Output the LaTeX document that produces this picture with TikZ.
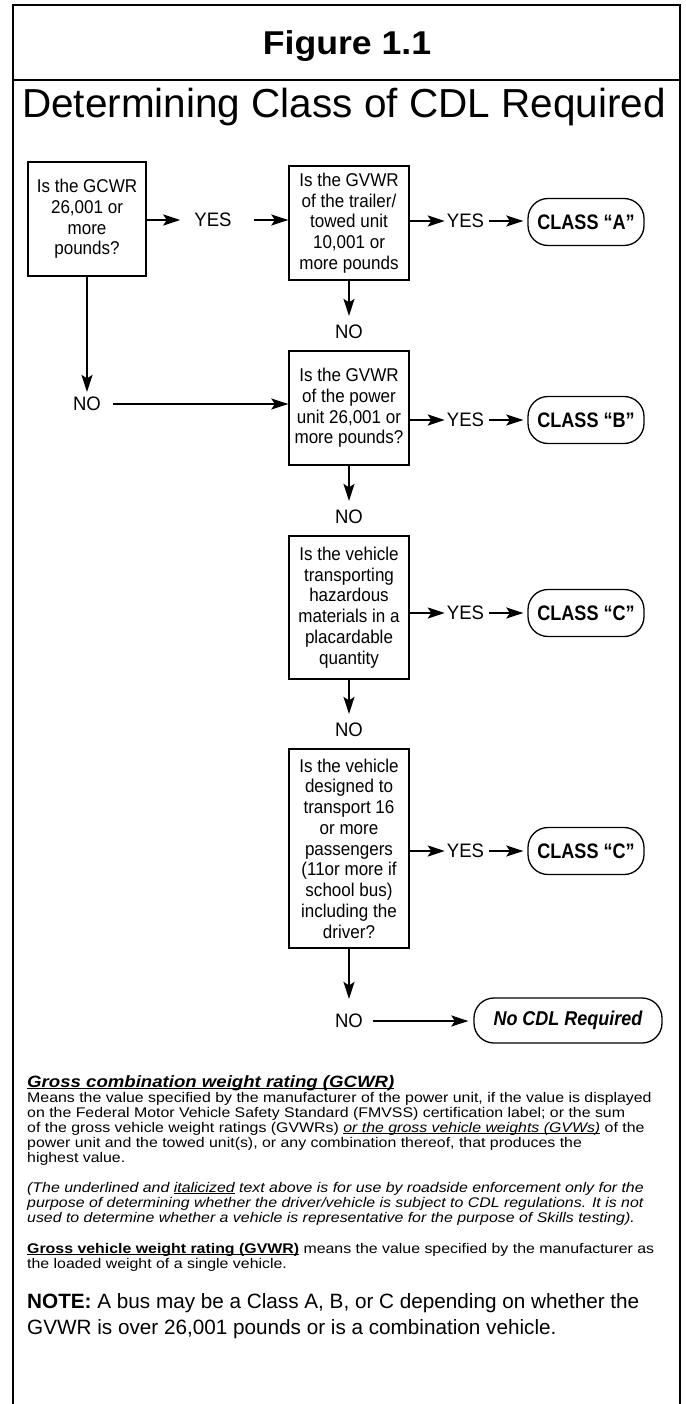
\documentclass[tikz,border=0pt]{standalone}
\usepackage{fontspec}
\setmainfont{Liberation Sans}
\newfontfamily\parfont[FakeStretch=1.135]{Liberation Sans}
\newfontfamily\boxfont[FakeStretch=0.92]{Liberation Sans}
\newfontfamily\lblfont[FakeStretch=0.95]{Liberation Sans}
\newfontfamily\figfont[FakeStretch=1.08]{Liberation Sans}
\newfontfamily\classfont[FakeStretch=0.86]{Liberation Sans}
\newfontfamily\cdlfont[FakeStretch=0.9]{Liberation Sans}
\newcommand\myul[1]{\setbox0\hbox{#1}\leavevmode\rlap{\rule[-1.7pt]{\wd0}{0.7pt}}\copy0\relax}
\usetikzlibrary{arrows.meta}
\begin{document}
\begin{tikzpicture}[x=1pt,y=-1pt,
  qbox/.style={draw, line width=1.3pt, minimum width=120pt, inner sep=0pt, align=center, font=\boxfont\fontsize{18.5}{20.75}\selectfont},
  lbl/.style={inner sep=0pt, font=\lblfont\fontsize{19.5}{22}\selectfont},
  oval/.style={draw, line width=1.3pt, rounded corners=20pt, minimum width=116pt, minimum height=47pt, inner sep=0pt, font=\classfont\bfseries\fontsize{21}{24}\selectfont},
  arr/.style={line width=2pt, -{Stealth[length=17pt,width=11pt,inset=3.5pt]}},
  frameline/.style={line width=1.2pt},
  ptext/.style={inner sep=0pt, anchor=base west, font=\parfont\fontsize{14}{15}\selectfont},
  itext/.style={ptext, font=\parfont\itshape\fontsize{14}{15}\selectfont}
]
\useasboundingbox (0,0) rectangle (685,1404);
\fill[white] (0,0) rectangle (685,1404);
% frame
\coordinate (fbl) at (13,1404);
\coordinate (ftl) at (13,5);
\coordinate (ftr) at (680,5);
\coordinate (fbr) at (680,1404);
\coordinate (sepl) at (13,80);
\coordinate (sepr) at (680,80);
\draw[frameline] (fbl) -- (ftl) -- (ftr) -- (fbr);
\draw[frameline] (sepl) -- (sepr);
% titles
\node[inner sep=0pt, anchor=base, font=\figfont\bfseries\fontsize{33}{40}\selectfont] (fig) at (347,55) {Figure 1.1};
\node[inner sep=0pt, anchor=base, font=\fontsize{40.5}{48}\selectfont] (title) at (344,118) {Determining Class of CDL Required};

% boxes
\node[qbox, minimum width=118pt, minimum height=114pt] (b1) at (87,219) {Is the GCWR\\26,001 or\\more\\pounds?};
\node[qbox, minimum height=114pt] (b2) at (349,223) {Is the GVWR\\of the trailer/\\towed unit\\10,001 or\\more pounds};
\node[qbox, minimum height=114pt] (b3) at (349,408) {Is the GVWR\\of the power\\unit 26,001 or\\more pounds?};
\node[qbox, minimum height=143pt] (b4) at (349,607.5) {Is the vehicle\\transporting\\hazardous\\materials in a\\placardable\\quantity};
\node[qbox, minimum height=199pt] (b5) at (349,848.5) {Is the vehicle\\designed to\\transport 16\\or more\\passengers\\(11or more if\\school bus)\\including the\\driver?};

% labels
\node[lbl] (yes0) at (213,220) {YES};
\node[lbl] (yes1) at (465.5,221) {YES};
\node[lbl] (yes2) at (465.5,420) {YES};
\node[lbl] (yes3) at (465.5,613) {YES};
\node[lbl] (yes4) at (465.5,851) {YES};
\node[lbl] (no0) at (87,404) {NO};
\node[lbl] (no1) at (349,332) {NO};
\node[lbl] (no2) at (349,517) {NO};
\node[lbl] (no3) at (349,730) {NO};
\node[lbl] (no4) at (349,1021) {NO};

% ovals
\node[oval] (cA) at (586,222) {CLASS “A”};
\node[oval] (cB) at (586,420) {CLASS “B”};
\node[oval] (cC1) at (586,613) {CLASS “C”};
\node[oval] (cC2) at (586,851) {CLASS “C”};
\node[oval, minimum width=188pt, minimum height=45pt, font=\cdlfont\bfseries\itshape\fontsize{20}{24}\selectfont] (nocdl) at (568,1020.5) {No CDL Required};

% connectors
\draw[arr, shorten >=14pt] (b1.east |- yes0) -- (yes0.west);
\draw[arr, shorten <=22pt] (yes0.east) -- (yes0.east -| b2.west);
\draw[arr, shorten >=2pt] (b2.east |- yes1) -- (yes1.west);
\draw[arr, shorten <=5pt, shorten >=4pt] (yes1.east) -- (cA.west |- yes1);
\draw[arr, shorten >=2pt] (b3.east |- yes2) -- (yes2.west);
\draw[arr, shorten <=5pt, shorten >=4pt] (yes2.east) -- (cB.west |- yes2);
\draw[arr, shorten >=2pt] (b4.east |- yes3) -- (yes3.west);
\draw[arr, shorten <=5pt, shorten >=4pt] (yes3.east) -- (cC1.west |- yes3);
\draw[arr, shorten >=2pt] (b5.east |- yes4) -- (yes4.west);
\draw[arr, shorten <=5pt, shorten >=4pt] (yes4.east) -- (cC2.west |- yes4);

\draw[arr, shorten >=5pt] (b1.south) -- (no0.north);
\draw[arr, shorten <=12pt] (no0.east) -- (no0.east -| b3.west);
\draw[arr, shorten >=9pt] (b2.south) -- (no1.north);
\draw[arr, shorten >=9pt] (b3.south) -- (no2.north);
\draw[arr, shorten >=9pt] (b4.south) -- (no3.north);
\draw[arr, shorten >=15pt] (b5.south) -- (no4.north);
\draw[arr, shorten <=10pt, shorten >=5pt] (no4.east) -- (nocdl.west |- no4);

% text block
\node[ptext, font=\parfont\bfseries\itshape\fontsize{16.4}{18}\selectfont] (h1) at (27,1087) {\myul{Gross combination weight rating (GCWR)}};
\node[ptext] (p1a) at (27,1102) {Means the value specified by the manufacturer of the power unit, if the value is displayed};
\node[ptext] (p1b) at (27,1117) {on the Federal Motor Vehicle Safety Standard (FMVSS) certification label; or the sum};
\node[ptext] (p1c) at (27,1132) {of the gross vehicle weight ratings (GVWRs) \myul{\itshape or the gross vehicle weights (GVWs)} of the};
\node[ptext] (p1d) at (27,1147) {power unit and the towed unit(s), or any combination thereof, that produces the};
\node[ptext] (p1e) at (27,1162) {highest value.};
\node[itext] (p2a) at (27,1192) {(The underlined and \myul{italicized} text above is for use by roadside enforcement only for the};
\node[itext] (p2b) at (27,1207) {purpose of determining whether the driver/vehicle is subject to CDL regulations. It is not};
\node[itext] (p2c) at (27,1222) {used to determine whether a vehicle is representative for the purpose of Skills testing).};
\node[ptext] (p3a) at (27,1253) {\myul{\bfseries Gross vehicle weight rating (GVWR)} means the value specified by the manufacturer as};
\node[ptext] (p3b) at (27,1268) {the loaded weight of a single vehicle.};
\node[ptext, font=\fontsize{20.7}{25}\selectfont] (n1) at (27,1308) {\textbf{NOTE:} A bus may be a Class A, B, or C depending on whether the};
\node[ptext, font=\fontsize{20.7}{25}\selectfont] (n2) at (27,1334) {GVWR is over 26,001 pounds or is a combination vehicle.};
\end{tikzpicture}
\end{document}
